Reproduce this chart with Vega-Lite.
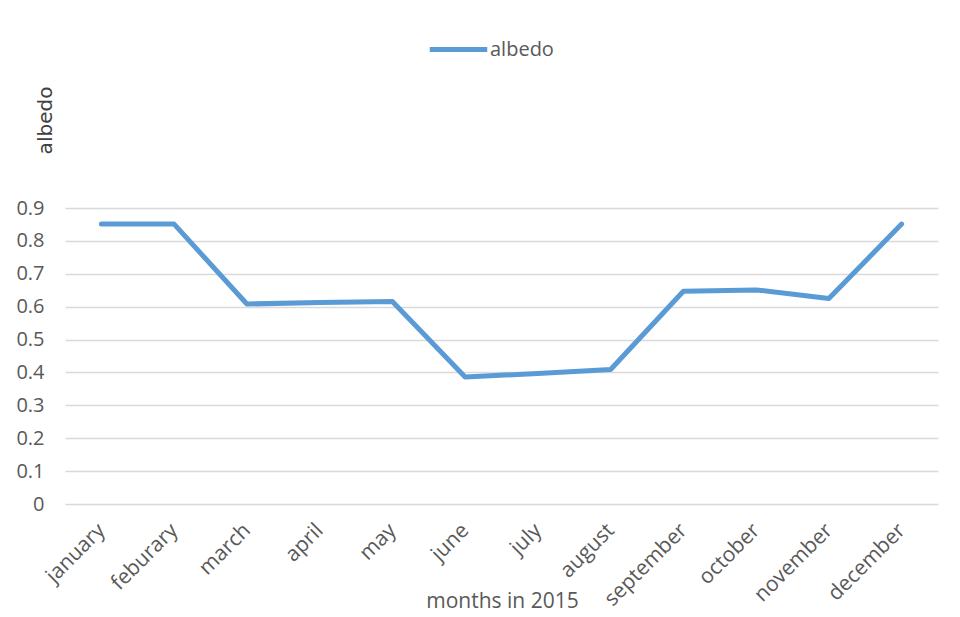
{
  "$schema": "https://vega.github.io/schema/vega-lite/v6.json",
  "width": 873,
  "height": 296,
  "autosize": {"type": "none"},
  "padding": {"left": 65, "top": 208, "right": 22, "bottom": 113},
  "background": "white",
  "config": {"view": {"stroke": null}},
  "data": {
    "values": [
      {"month": "january", "albedo": 0.851},
      {"month": "feburary", "albedo": 0.851},
      {"month": "march", "albedo": 0.608},
      {"month": "april", "albedo": 0.613},
      {"month": "may", "albedo": 0.616},
      {"month": "june", "albedo": 0.386},
      {"month": "july", "albedo": 0.397},
      {"month": "august", "albedo": 0.409},
      {"month": "september", "albedo": 0.647},
      {"month": "october", "albedo": 0.651},
      {"month": "november", "albedo": 0.625},
      {"month": "december", "albedo": 0.851}
    ]
  },
  "mark": {"type": "line", "strokeWidth": 5, "strokeCap": "round", "strokeJoin": "round"},
  "encoding": {
    "x": {
      "field": "month",
      "type": "nominal",
      "sort": null,
      "scale": {"type": "point", "padding": 0.5},
      "axis": {
        "title": "months in 2015",
        "grid": false,
        "ticks": false,
        "domain": false,
        "labelAngle": -45,
        "labelAlign": "right",
        "labelBaseline": "middle",
        "labelPadding": 23,
        "labelFont": "Open Sans",
        "labelFontSize": 21,
        "labelColor": "#595959",
        "titleFont": "Open Sans",
        "titleFontSize": 21,
        "titleFontWeight": "normal",
        "titleColor": "#595959",
        "titleX": 437,
        "titleY": 97,
        "titleAlign": "center",
        "titleBaseline": "middle"
      }
    },
    "y": {
      "field": "albedo",
      "type": "quantitative",
      "scale": {"domain": [0, 0.9], "nice": false},
      "axis": {
        "title": "albedo",
        "values": [0, 0.1, 0.2, 0.3, 0.4, 0.5, 0.6, 0.7, 0.8, 0.9],
        "labelExpr": "datum.value == 0 ? '0' : format(datum.value, '.1f')",
        "grid": true,
        "gridColor": "#d9d9d9",
        "gridWidth": 1.5,
        "domain": false,
        "ticks": false,
        "labelPadding": 21,
        "labelFont": "Open Sans",
        "labelFontSize": 20,
        "labelColor": "#595959",
        "titleFont": "DejaVu Sans",
        "titleFontSize": 20,
        "titleFontWeight": "normal",
        "titleColor": "#404040",
        "titleAngle": -90,
        "titleX": -20,
        "titleY": -88,
        "titleAlign": "center",
        "titleBaseline": "middle"
      }
    },
    "color": {
      "datum": "albedo",
      "scale": {"range": ["#5b9bd5"]},
      "legend": {
        "title": null,
        "orient": "none",
        "legendX": 362,
        "legendY": -190,
        "symbolType": "stroke",
        "symbolStrokeWidth": 5,
        "symbolSize": 3300,
        "labelFont": "Open Sans",
        "labelFontSize": 20,
        "labelColor": "#595959",
        "labelOffset": 0
      }
    }
  }
}
